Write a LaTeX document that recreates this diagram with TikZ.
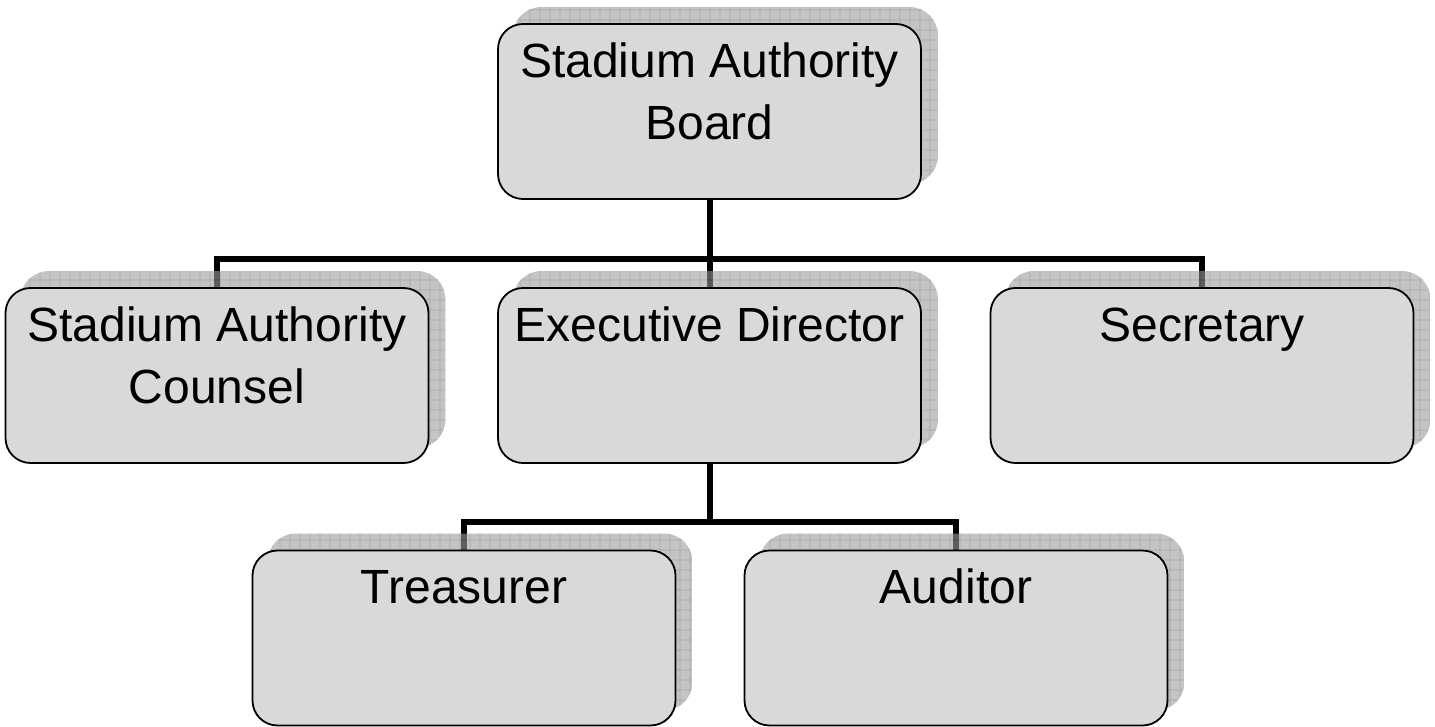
\documentclass[tikz,border=0pt]{standalone}
\usepackage{fontspec}
\setmainfont{Liberation Sans}
\usetikzlibrary{backgrounds}
\definecolor{boxgray}{HTML}{D9D9D9}
\definecolor{shadowfill}{HTML}{9D9D9D}
\definecolor{shadowline}{HTML}{6A6A6A}
\newcommand\boxshadow[1]{%
  \begin{scope}[transparency group, opacity=0.6]
    \clip[rounded corners=28pt] ([shift={(16,-16)}]#1.south west) rectangle ([shift={(16,-16)}]#1.north east);
    \fill[shadowfill] ([shift={(16,-16)}]#1.south west) rectangle ([shift={(16,-16)}]#1.north east);
    \draw[shadowgridline] ([shift={(16,-16)}]#1.south west) grid ([shift={(16,-16)}]#1.north east);
  \end{scope}}
\tikzset{
  orgbox/.style={draw=black, line width=1.8pt, fill=boxgray, rounded corners=25pt,
    minimum width=423pt, minimum height=175pt, inner sep=0pt},
  lbl/.style={anchor=north, inner sep=0pt, align=center,
    font=\fontsize{48}{62}\selectfont},
  conn/.style={draw=black, line width=6pt},
  shadowgridline/.style={draw=shadowline, line width=0.8pt, xstep=10pt, ystep=10pt}
}
\newcommand\lstrut{\rule{0pt}{40pt}}
\begin{document}
\begin{tikzpicture}[x=1pt, y=-1pt]
\useasboundingbox (0,0) rectangle (1435,727);
% boxes
\node[orgbox] (board) at (709.5,111.5) {};
\node[orgbox] (counsel) at (217,375.5) {};
\node[orgbox] (exec) at (709.5,375.5) {};
\node[orgbox] (secretary) at (1202,375.5) {};
\node[orgbox] (treasurer) at (464,638) {};
\node[orgbox] (auditor) at (956,638) {};
% labels
\node[lbl] (tboard) at ([yshift=-14pt]board.north) {\lstrut Stadium Authority\\Board};
\node[lbl] (tcounsel) at ([yshift=-14pt]counsel.north) {\lstrut Stadium Authority\\Counsel};
\node[lbl] (texec) at ([yshift=-14pt]exec.north) {\lstrut Executive Director};
\node[lbl] (tsecretary) at ([yshift=-14pt]secretary.north) {\lstrut Secretary};
\node[lbl] (ttreasurer) at ([yshift=-14pt]treasurer.north) {\lstrut Treasurer};
\node[lbl] (tauditor) at ([yshift=-14pt]auditor.north) {\lstrut Auditor};
\coordinate (j1) at (709.5,259);
\coordinate (j2) at (709.5,522);
\begin{pgfonlayer}{background}
  \draw[conn] (board.south) -- (j1);
  \draw[conn] (counsel.north) |- (j1) -| (secretary.north);
  \draw[conn] (exec.north) -- (j1);
  \draw[conn] (exec.south) -- (j2);
  \draw[conn] (treasurer.north) |- (j2) -| (auditor.north);
  \boxshadow{board}
  \boxshadow{counsel}
  \boxshadow{exec}
  \boxshadow{secretary}
  \boxshadow{treasurer}
  \boxshadow{auditor}
\end{pgfonlayer}
\end{tikzpicture}
\end{document}
